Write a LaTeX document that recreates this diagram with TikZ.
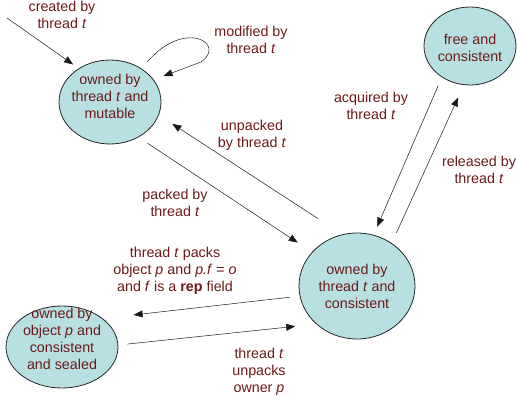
\documentclass[tikz,border=0pt]{standalone}
\usepackage{fontspec}
\setmainfont{Liberation Sans}
\usetikzlibrary{arrows.meta,shapes.geometric}
\definecolor{txt}{HTML}{6B1A1A}
\definecolor{fillc}{HTML}{B8E0E2}
\newcommand\lblfont{\fontsize{14.3}{17}\selectfont}
\newcommand\stk[2]{\raisebox{#1}[0pt][0pt]{\begin{tabular}{@{}c@{}}#2\end{tabular}}}
\begin{document}
\begin{tikzpicture}[x=1pt,y=-1pt,
  state/.style={ellipse, draw=black!85, line width=0.8pt, fill=fillc, inner sep=-10pt, text=txt, align=center, font=\lblfont},
  lbl/.style={text=txt, align=center, font=\lblfont, inner sep=0pt},
  arr/.style={-{Triangle[length=9pt,width=7pt]}, line width=0.5pt, draw=black!90}]
\useasboundingbox (0,0) rectangle (517,403);

\node[state, minimum width=102pt, minimum height=84pt] (M) at (110,102) {\stk{0pt}{owned by\\thread \textit{t} and\\mutable}};
\node[state, minimum width=92pt, minimum height=78pt] (F) at (470,46) {\stk{-7.1pt}{free and\\consistent}};
\node[state, minimum width=116pt, minimum height=106pt] (C) at (357,286) {\stk{-6.1pt}{owned by\\thread \textit{t} and\\consistent}};
\node[state, minimum width=112pt, minimum height=82pt] (S) at (62,347) {\stk{2.4pt}{owned by\\object \textit{p} and\\consistent\\and sealed}};

\node[lbl] (l1) at (62,15) {created by\\thread \textit{t}};
\node[lbl] (l2) at (251,40) {modified by\\thread \textit{t}};
\node[lbl] (l3) at (252,135.5) {unpacked\\by thread \textit{t}};
\node[lbl] (l4) at (175,203) {packed by\\thread \textit{t}};
\node[lbl] (l5) at (371,106) {acquired by\\thread \textit{t}};
\node[lbl] (l6) at (479,169.5) {released by\\thread \textit{t}};
\node[lbl] (l7) at (175,271) {thread \textit{t} packs\\object \textit{p} and \textit{p.f} = \textit{o}\\and \textit{f} is a \textbf{rep} field};
\node[lbl] (l8) at (259,371.5) {thread \textit{t}\\unpacks\\owner \textit{p}};

\coordinate (c0) at (7,18);
\draw[arr, shorten >=6.8pt] (c0) -- (M.133.6);
\draw[arr, shorten >=10.5pt] ([shift={(6.1,-6.6)}]M.47.2) .. controls (185,18) and (227,44) .. (201,62) -- (M.27.3);
\draw[arr, shorten <=29pt, shorten >=16pt] (C.106.1) -- (M.-15.3);
\draw[arr, shorten <=10.9pt, shorten >=17pt] (M.-51.4) -- (C.143.1);
\draw[arr, shorten <=9pt, shorten >=8.9pt] (F.-132.8) -- (C.72);
\draw[arr, shorten <=11.3pt, shorten >=13.6pt] (C.51.2) -- (F.-99.4);
\draw[arr, shorten <=10pt, shorten >=31pt] (C.-170.2) -- (S.35.3);
\draw[arr, shorten <=9pt, shorten >=21pt] (S.2) -- (C.-137.3);
\end{tikzpicture}
\end{document}
